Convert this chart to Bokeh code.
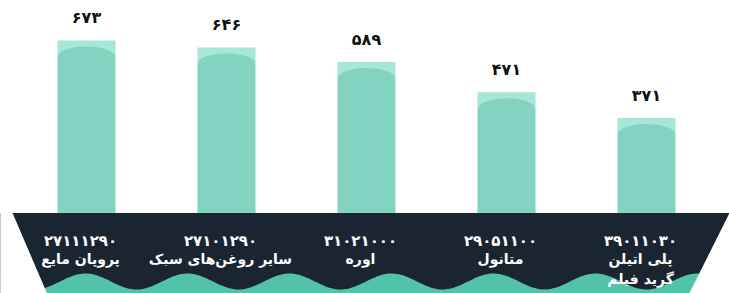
import numpy as np
from bokeh.plotting import figure
from bokeh.models import Range1d
from bokeh.core.properties import value
from bokeh.embed import file_html
from bokeh.resources import INLINE

# ---- data ----
codes = ["۲۷۱۱۱۲۹۰", "۲۷۱۰۱۲۹۰", "۳۱۰۲۱۰۰۰", "۲۹۰۵۱۱۰۰", "۳۹۰۱۱۰۳۰"]
names = ["پروپان مایع", "سایر روغن‌های سبک", "اوره", "متانول", "پلی اتیلن\nگرید فیلم"]
values = [673, 646, 589, 471, 371]
value_labels = ["۶۷۳", "۶۴۶", "۵۸۹", "۴۷۱", "۳۷۱"]

# ---- layout constants (pixels) ----
W, H = 729, 293
STEP = 140.0           # px per category
FIRST = 86.0           # px of first bar centre inside frame
PXU = 0.2566           # px per value unit
BASE = 212.7           # px of baseline inside frame

def fx(px):            # frame px -> data x
    return (px - FIRST) / STEP

def fy(py):            # frame px -> data y
    return (BASE - py) / PXU

idx = list(range(len(values)))

p = figure(width=W, height=H, output_backend="svg", toolbar_location=None,
           x_range=Range1d(fx(0), fx(W)), y_range=Range1d(fy(H), fy(0)),
           x_axis_location=None, y_axis_location=None, min_border=0,
           background_fill_color="white", border_fill_color="white")
p.outline_line_color = None
p.grid.visible = False

BAR = "#82d4c0"
LIGHT = "#a6e7d7"
DARK = "#1b2532"
TEAL = "#52c2a8"
bw = 58 / STEP
cap = 16 / PXU

# bars
tops = [v - cap for v in values]
p.vbar(x=idx, top=tops, bottom=0, width=bw, fill_color=BAR, line_color=None)
p.vbar(x=idx, top=values, bottom=tops, width=bw, fill_color=LIGHT, line_color=None)
p.ellipse(x=idx, y=tops, width=bw * 0.98, height=20 / PXU, fill_color=BAR, line_color=None)

# value labels
p.text(x=idx, y=values, text=value_labels, text_align="center", text_baseline="middle",
       y_offset=-23, text_font=value("DejaVu Sans"), text_font_style="bold",
       text_font_size="16px", text_color="#111111")

# dark banner
top_y = 212.5
yb = 310
p.patch([fx(-20), fx(760), fx(760), fx(-20)], [fy(top_y), fy(top_y), fy(yb), fy(yb)],
        fill_color=DARK, line_color=None)

# teal waves at the bottom
wx = np.linspace(-20, 760, 400)
wy = 281 - 8 * np.cos(2 * np.pi * (wx - 85) / 102)
xs = [fx(v) for v in wx] + [fx(760), fx(-20)]
ys = [fy(v) for v in wy] + [fy(yb), fy(yb)]
p.patch(xs, ys, fill_color=TEAL, line_color=None)

# white cut corners
def lx(py):
    return 12 + 0.43 * (py - top_y)

def rx(py):
    return 729 - 0.5 * (py - top_y)

p.patch([fx(-20), fx(lx(top_y)), fx(lx(yb)), fx(-20)],
        [fy(top_y), fy(top_y), fy(yb), fy(yb)], fill_color="white", line_color=None)
p.patch([fx(rx(top_y)), fx(760), fx(760), fx(rx(yb))],
        [fy(top_y), fy(top_y), fy(yb), fy(yb)], fill_color="white", line_color=None)

# category texts
p.text(x=idx, y=[fy(240)] * 5, text=codes, text_align="center", text_baseline="middle",
       x_offset=-6, text_font=value("DejaVu Sans"), text_font_style="bold",
       text_font_size="15px", text_color="white")
p.text(x=idx, y=[fy(250)] * 5, text=names, text_align="center", text_baseline="top",
       x_offset=-6, text_font=value("DejaVu Sans"), text_font_style="bold",
       text_font_size="14px", text_color="white", text_line_height=1.3)

open("out.html", "w").write(file_html(p, INLINE))
